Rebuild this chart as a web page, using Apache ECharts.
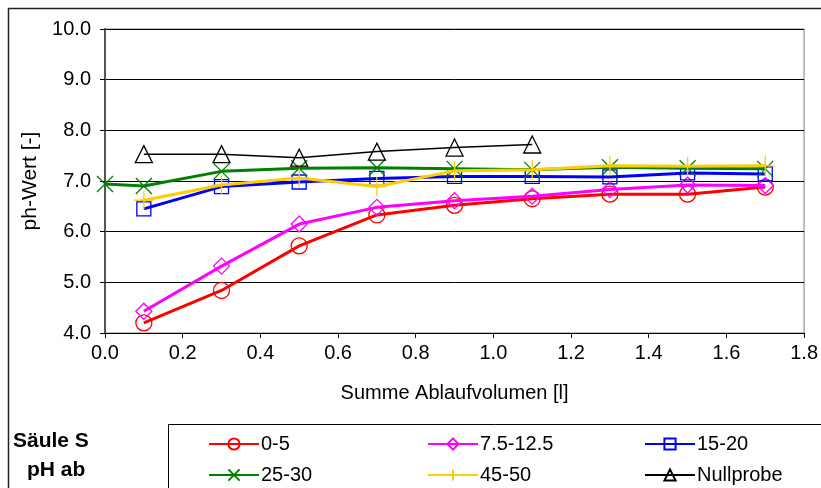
<!DOCTYPE html>
<html>
<head>
<meta charset="utf-8">
<script src="https://cdn.jsdelivr.net/npm/echarts@6/dist/echarts.min.js"></script>
<style>
html,body{margin:0;padding:0;background:#fff;}
#c{width:821px;height:488px;}
</style>
</head>
<body>
<div id="c"></div>
<script>
// Data
const xMain = [0.1, 0.3, 0.5, 0.7, 0.9, 1.1, 1.3, 1.5, 1.7];
const xGreen = [0.0, 0.1, 0.3, 0.5, 0.7, 0.9, 1.1, 1.3, 1.5, 1.7];
const xNull = [0.1, 0.3, 0.5, 0.7, 0.9, 1.1];
const s0_5 = [4.2, 4.84, 5.72, 6.33, 6.52, 6.65, 6.74, 6.74, 6.88];
const s7_12 = [4.43, 5.32, 6.15, 6.48, 6.61, 6.7, 6.83, 6.92, 6.91];
const s15_20 = [6.45, 6.89, 6.98, 7.05, 7.09, 7.09, 7.08, 7.16, 7.14];
const s25_30 = [6.94, 6.9, 7.19, 7.25, 7.26, 7.24, 7.22, 7.27, 7.25, 7.24];
const s45_50 = [6.62, 6.92, 7.06, 6.89, 7.2, 7.22, 7.3, 7.29, 7.3];
const sNull = [7.53, 7.53, 7.46, 7.58, 7.66, 7.72];
const seriesNames = ['0-5', '7.5-12.5', '15-20', '25-30', '45-50', 'Nullprobe'];
const yTicks = [4, 5, 6, 7, 8, 9, 10];
const xTicks = [0, 0.2, 0.4, 0.6, 0.8, 1.0, 1.2, 1.4, 1.6, 1.8];

const FONT = '"Liberation Sans", Arial, sans-serif';
const SYM = {
  circle: 'path://M10,0A10,10,0,1,1,10,20A10,10,0,1,1,10,0Z',
  diamond: 'path://M10,0L20,10L10,20L0,10Z',
  rect: 'path://M0,0L20,0L20,20L0,20Z',
  cross: 'path://M0,0L20,20M20,0L0,20',
  plus: 'path://M10,0L10,20M0,10L20,10',
  triangle: 'path://M10,0L20,18L0,18Z'
};
function pairs(xs, ys) { return xs.map((x, i) => [x, ys[i]]); }
function mk(name, xs, ys, color, sym, size, width, z) {
  return {
    name: name, type: 'line', data: pairs(xs, ys),
    symbol: sym, symbolSize: size, z: z,
    lineStyle: { color: color, width: width },
    itemStyle: { color: 'rgba(0,0,0,0)', borderColor: color, borderWidth: 1.3 },
    emphasis: { disabled: true },
    animation: false
  };
}
const series = [
  mk(seriesNames[0], xMain, s0_5, '#FF0000', SYM.circle, 16, 3, 2),
  mk(seriesNames[1], xMain, s7_12, '#FF00FF', SYM.diamond, 16, 3, 3),
  mk(seriesNames[2], xMain, s15_20, '#0000FF', SYM.rect, 14, 3, 4),
  mk(seriesNames[3], xGreen, s25_30, '#008000', SYM.cross, 16, 3, 5),
  mk(seriesNames[4], xMain, s45_50, '#FFCC00', SYM.plus, 19, 3, 6),
  mk(seriesNames[5], xNull, sNull, '#000000', SYM.triangle, 17, 1.5, 7)
];

const legendPos = [[208, 434], [427, 434], [644, 434], [208, 465], [427, 465], [644, 465]];
const legends = seriesNames.map((n, i) => ({
  data: [n], left: legendPos[i][0], top: legendPos[i][1],
  itemWidth: 50, itemHeight: 14, itemGap: 0, padding: 0,
  selectedMode: false,
  textStyle: { fontFamily: FONT, fontSize: 20, color: '#000', padding: [0, 0, 0, -3] }
}));

const chart = echarts.init(document.getElementById('c'), null, { renderer: 'canvas' });
chart.setOption({
  backgroundColor: '#fff',
  animation: false,
  grid: { left: 105, right: 15, top: 29, bottom: 155, show: true, borderColor: '#808080', borderWidth: 1, backgroundColor: 'transparent' },
  xAxis: {
    type: 'value', min: xTicks[0], max: xTicks[xTicks.length - 1], interval: 0.2,
    name: 'Summe Ablaufvolumen [l]', nameLocation: 'middle', nameGap: 50,
    nameTextStyle: { fontFamily: FONT, fontSize: 20, color: '#000' },
    axisLine: { onZero: false, lineStyle: { color: '#000', width: 1 } },
    axisTick: { show: true, length: 5, inside: false, lineStyle: { color: '#000' } },
    axisLabel: { fontFamily: FONT, fontSize: 20, color: '#000', margin: 10, formatter: v => v.toFixed(1) },
    splitLine: { show: false }
  },
  yAxis: {
    type: 'value', min: yTicks[0], max: yTicks[yTicks.length - 1], interval: 1,
    name: 'ph-Wert [-]', nameLocation: 'middle', nameGap: 60, nameRotate: 90,
    nameTextStyle: { fontFamily: FONT, fontSize: 21, color: '#000' },
    axisLine: { lineStyle: { color: '#555', width: 2 } },
    axisTick: { show: true, length: 5, inside: false, lineStyle: { color: '#000' } },
    axisLabel: { fontFamily: FONT, fontSize: 20, color: '#000', margin: 14, formatter: v => v.toFixed(1) },
    splitLine: { show: true, lineStyle: { color: '#000', width: 1 } }
  },
  legend: legends,
  graphic: [
    { type: 'rect', shape: { x: 8.5, y: 8.5, width: 900, height: 600 }, style: { fill: 'none', stroke: '#222', lineWidth: 1.5 }, silent: true },
    { type: 'rect', shape: { x: 168.5, y: 424.5, width: 700, height: 200 }, style: { fill: 'none', stroke: '#000', lineWidth: 1 }, silent: true },
    { type: 'text', left: 13, top: 431, style: { text: 'Säule S', font: 'bold 21px ' + FONT, fill: '#000' } },
    { type: 'text', left: 27, top: 460, style: { text: 'pH ab', font: 'bold 21px ' + FONT, fill: '#000' } }
  ],
  series: series
});
</script>
</body>
</html>
